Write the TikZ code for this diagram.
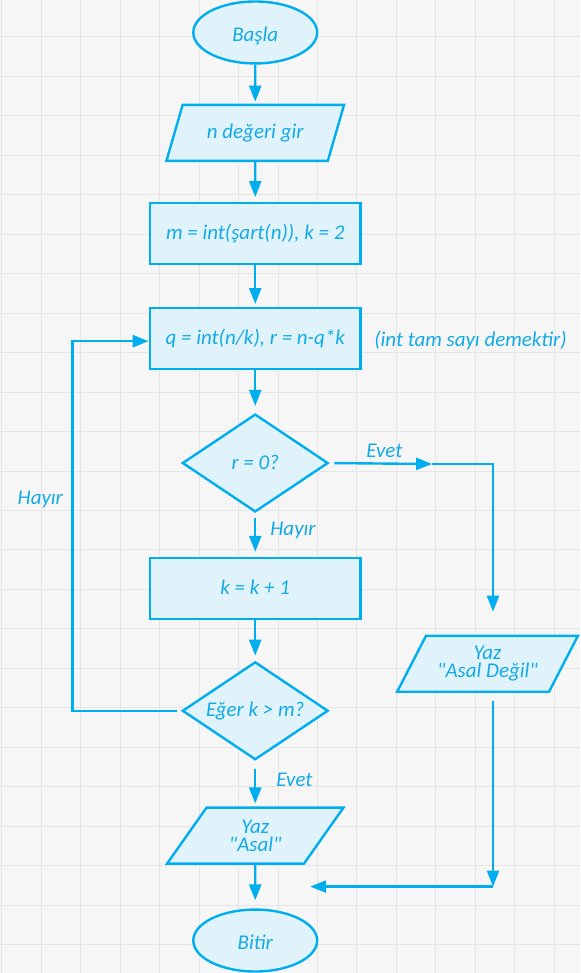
\documentclass[tikz,border=0pt]{standalone}
\usepackage{fontspec}
\setmainfont{Carlito}[Ligatures=TeXOff]
\usetikzlibrary{shapes.geometric,arrows.meta}
\definecolor{fcstroke}{RGB}{0,174,239}
\definecolor{fcfill}{RGB}{224,243,251}
\definecolor{fctext}{RGB}{20,170,232}
\definecolor{fcbg}{RGB}{246,246,246}
\definecolor{fcgrid}{RGB}{229,229,229}
\begin{document}
\begin{tikzpicture}[x=1pt,y=-1pt,
  every node/.style={font=\fontsize{21pt}{18pt}\selectfont\itshape, text=fctext},
  fcshape/.style={draw=fcstroke, line width=2.4pt, fill=fcfill, inner sep=0pt},
  oneline/.style={text height=14pt, text depth=2pt},
  fcterm/.style={fcshape, ellipse, minimum width=124pt, minimum height=62pt, text height=18pt, text depth=0pt},
  fcio/.style={fcshape, trapezium, trapezium left angle=56, trapezium right angle=124,
     trapezium stretches=true, minimum height=56pt, align=center},
  fcproc/.style={fcshape, rectangle, minimum width=211pt, minimum height=61pt, oneline},
  fcdec/.style={fcshape, diamond, shape aspect=1.5, minimum width=146pt, minimum height=98pt, oneline},
  fcarrow/.style={draw=fcstroke, line width=2.4pt, -{Triangle[length=16pt,width=12pt]}},
  fcline/.style={draw=fcstroke, line width=2.4pt},
  fclabel/.style={inner sep=0pt, anchor=base west},
  gridline/.style={draw=fcgrid, line width=1pt}
]
\fill[fcbg] (0,0) rectangle (580,973);
\foreach \i in {0,...,14} \draw[gridline] ({1.3+39.5*\i},0) -- ({1.3+39.5*\i},973);
\foreach \j in {1,...,24} \draw[gridline] (0,{-3+39.5*\j}) -- (580,{-3+39.5*\j});
\useasboundingbox (0,0) rectangle (580,973);

\node[fcterm] (start) at (255,32) {Başla};
\node[fcio, oneline, minimum width=178pt] (inp) at (255,132.5) {n değeri gir};
\node[fcproc] (init) at (255,233.5) {m = int(şart(n)), k = 2};
\node[fcproc] (calc) at (255,338.5) {q = int(n/k), r = n-q*k};
\node[fclabel] (note) at (374,346) {(int tam sayı demektir)};
\node[fcdec] (d1) at (255,463) {r = 0?};
\node[fcproc] (inc) at (255,588.5) {k = k + 1};
\node[fcdec] (d2) at (255,711) {Eğer k > m?};
\node[fcio, minimum width=181pt] (nprime) at (487.5,664) {Yaz\\"Asal Değil"};
\node[fcio, minimum width=178pt] (prime) at (255,836) {Yaz\\"Asal"};
\node[fcterm] (stop) at (255,941) {Bitir};

\node[fclabel] (h1) at (270,536) {Hayır};
\node[fclabel] (h2) at (17,505) {Hayır};
\node[fclabel] (ev1) at (366,457) {Evet};
\node[fclabel] (ev2) at (276,787) {Evet};

\draw[fcarrow, shorten >=2pt] (start) -- (inp);
\draw[fcarrow, shorten >=5pt] (inp) -- (init);
\draw[fcarrow, shorten >=3pt] (init) -- (calc);
\draw[fcarrow, shorten >=7pt] (calc) -- (d1);
\draw[fcarrow, shorten <=5pt, shorten >=5pt] (d1) -- (inc);
\draw[fcarrow, shorten >=5pt] (inc) -- (d2);
\draw[fcarrow, shorten <=8pt, shorten >=3pt] (d2) -- (prime);
\draw[fcarrow, shorten >=8pt] (prime) -- (stop);

\coordinate (l1) at (72,711);
\coordinate (l2) at (72,341);
\draw[fcarrow, shorten <=4pt] (d2.west) -- (l1) -- (l2) -- (l2 -| calc.west);

\coordinate (ya) at (432,464);
\coordinate (yb) at (493,464);
\draw[fcarrow, shorten <=5pt] (d1.east) -- (ya);
\draw[fcarrow, shorten >=23pt] (ya) -- (yb) -- (yb |- nprime.north);

\coordinate (c1) at (493,887);
\coordinate (join) at (255,887);
\draw[fcarrow, shorten <=8pt] (c1 |- nprime.south) -- (c1);
\draw[fcarrow, shorten >=55pt] (c1) -- (join);
\end{tikzpicture}
\end{document}
